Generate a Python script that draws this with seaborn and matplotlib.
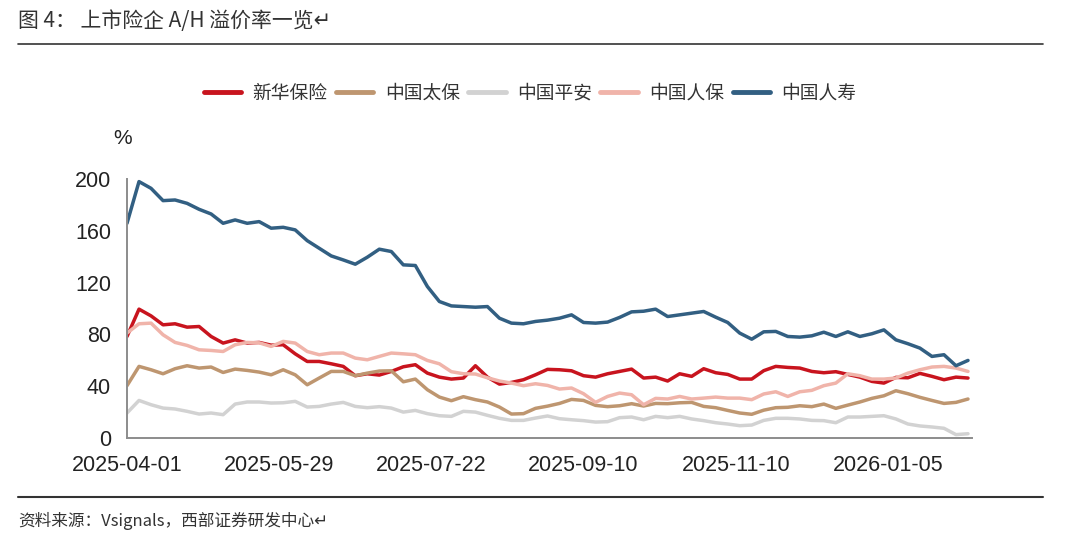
import numpy as np
import pandas as pd
import matplotlib.pyplot as plt
import seaborn as sns
from matplotlib.lines import Line2D

# 数据：每3个交易日取一个点（溢价率，%）
names = ['新华保险', '中国太保', '中国平安', '中国人保', '中国人寿']
colors = ['#C8141E', '#BE9670', '#D2D2D2', '#F0B4AA', '#325F82']
tick_days = [0, 38, 76, 114, 152, 190]
tick_labels = ['2025-04-01', '2025-05-29', '2025-07-22', '2025-09-10', '2025-11-10', '2026-01-05']

xinhua = [78.4, 99.5, 94.3, 87.4, 88.2, 85.6, 86.1, 78.4, 73.3, 75.8, 73.3, 73.8, 71.7, 72, 65, 59.1, 59.1, 57.3,
          55.3, 48.1, 49.6, 48.6, 51.4, 55, 56.6, 50.1, 47, 45.5, 46.3, 55.8, 47, 41.6, 42.9, 45, 48.8, 53,
          52.7, 51.9, 48.1, 47, 49.6, 51.4, 53.2, 46.3, 47, 44, 49.6, 47.6, 53.5, 50.4, 49.1, 45.5, 45.5, 52,
          55.3, 54.5, 54, 51.4, 50.4, 51.2, 49.1, 47, 43.7, 42.4, 46.8, 46.5, 49.9, 47.6, 45, 47, 46.3]
cpic = [40.4, 55.3, 52.7, 49.6, 53.5, 55.8, 54, 54.8, 50.6, 53.2, 52.2, 50.9, 48.8, 52.7, 48.8, 41.1, 46.3, 51.4,
        51.4, 48.1, 50.1, 51.7, 51.9, 43.4, 45.5, 37.3, 31.6, 28.8, 31.9, 29.6, 27.8, 23.9, 18.5, 18.8, 22.9, 24.6,
        26.7, 29.8, 29, 25.2, 24.2, 24.9, 26.5, 24.7, 26.7, 26.5, 27.2, 27.5, 24.4, 23.4, 21.3, 19.3, 18.3, 21.5,
        23.4, 23.7, 24.9, 24.2, 26.2, 22.9, 25.4, 27.8, 30.6, 32.6, 36.5, 34.2, 31.4, 29, 26.7, 27.5, 30.1]
pingan = [19.3, 29, 25.7, 23.1, 22.4, 20.6, 18.5, 19.3, 18, 26.2, 27.8, 27.8, 27, 27.2, 28.3, 23.9, 24.4, 26.2,
          27.5, 24.4, 23.4, 24.2, 23.1, 20, 21.3, 18.8, 17.2, 16.7, 20.6, 20, 17.5, 15.2, 13.6, 13.6, 15.4, 17,
          14.9, 14.1, 13.4, 12.3, 12.6, 15.7, 16.2, 14.1, 16.7, 15.7, 16.7, 14.7, 13.4, 11.8, 10.8, 9.5, 10, 13.6,
          15.2, 15.2, 14.7, 13.6, 13.4, 11.8, 16.2, 16.2, 16.7, 17.2, 14.7, 10.8, 9.3, 8.5, 7.5, 2.6, 3.3]
picc = [81, 88.2, 88.7, 79.7, 73.8, 71.5, 68.1, 67.6, 66.8, 72, 73.8, 73.5, 70.7, 74.6, 73.3, 66.8, 64.3, 65.6,
        65.6, 61.7, 60.4, 63, 65.6, 65, 64.3, 59.9, 57.3, 51.2, 49.6, 49.4, 46.5, 44, 42.4, 40.4, 41.9, 40.6,
        37.8, 38.6, 34.2, 27.5, 32.1, 34.7, 33.4, 25.7, 30.6, 30.1, 32.1, 30.1, 30.8, 31.6, 30.8, 30.8, 29.6, 34,
        35.7, 32.1, 35.7, 36.8, 40.4, 42.4, 49.6, 48.1, 45.5, 45.5, 46.3, 50.1, 52.7, 54.8, 55.3, 54, 51.4]
chinalife = [165.8, 198, 192.8, 183.3, 183.8, 181.2, 176.6, 173, 165.8, 168.4, 165.8, 167.1, 162, 162.7, 160.7, 152.4, 146.5, 140.6,
             137.5, 134.2, 139.6, 145.8, 144, 133.7, 133.2, 117, 105.4, 102, 101.5, 101, 101.5, 92.5, 88.7, 88.2, 90, 91,
             92.5, 95.1, 89.2, 88.7, 89.5, 93.1, 97.4, 97.9, 99.5, 93.8, 95.1, 96.4, 97.7, 93.3, 89.2, 81, 76.3, 82,
             82.3, 78.4, 77.9, 78.9, 81.7, 78.4, 82, 78.4, 80.5, 83.5, 75.8, 72.8, 69.4, 63, 64.3, 55.8, 59.9]

days = np.arange(len(xinhua)) * 3  # 交易日序号
df = pd.DataFrame({'day': days, '新华保险': xinhua, '中国太保': cpic, '中国平安': pingan,
                   '中国人保': picc, '中国人寿': chinalife})
df = df.melt(id_vars='day', var_name='公司', value_name='溢价率')

sns.set_style('white')
plt.rcParams['font.family'] = ['Noto Sans CJK SC', 'DejaVu Sans']

fig = plt.figure(figsize=(10.8, 5.51), dpi=100)
ax = fig.add_axes([127 / 1080, 1 - 438 / 551, 845 / 1080, 259 / 551])

sns.lineplot(data=df, x='day', y='溢价率', hue='公司', hue_order=names,
             palette=colors, linewidth=2.5, ax=ax, legend=False)

ax.set_xlim(0, 211)
ax.set_ylim(0, 200)
ax.set_yticks(range(0, 201, 40))
ax.set_xticks(tick_days)
ax.set_xticklabels(tick_labels)
ax.set_xlabel('')
ax.set_ylabel('')
for side in ['top', 'right']:
    ax.spines[side].set_visible(False)
for side in ['left', 'bottom']:
    ax.spines[side].set_color('#8C8C8C')
    ax.spines[side].set_linewidth(1.4)
ax.tick_params(axis='both', direction='out', length=8, width=1.2, color='#8C8C8C',
               labelsize=15.5, labelcolor='#222222')
ax.tick_params(axis='x', pad=4)
for lab in ax.get_xticklabels() + ax.get_yticklabels():
    lab.set_family(['Liberation Sans', 'DejaVu Sans'])

# 图例
handles = [Line2D([0], [0], color=c, lw=3.5) for c in colors]
fig.legend(handles, names, loc='center', bbox_to_anchor=(530 / 1080, 1 - 93 / 551), ncol=5,
           frameon=False, fontsize=13.5, handlelength=2.0, handletextpad=0.6, columnspacing=0.45,
           labelcolor='#333333')

# 单位
fig.text(123 / 1080, 1 - 138 / 551, '%', fontsize=15, ha='center', va='center',
         color='#222222', family=['Liberation Sans', 'DejaVu Sans'])

# 标题与来源
fig.text(18 / 1080, 1 - 21 / 551, '图 4： 上市险企 A/H 溢价率一览↵', fontsize=15, ha='left', va='center',
         color='#333333', family=['Noto Sans CJK SC', 'DejaVu Sans'])
fig.add_artist(Line2D([18 / 1080, 1043 / 1080], [1 - 44 / 551, 1 - 44 / 551], color='#333333', lw=1.2))
fig.add_artist(Line2D([18 / 1080, 1043 / 1080], [1 - 497 / 551, 1 - 497 / 551], color='#333333', lw=1.5))
fig.text(18 / 1080, 1 - 521 / 551, '资料来源：Vsignals，西部证券研发中心↵', fontsize=12, ha='left', va='center',
         color='#333333', family=['Noto Sans CJK SC', 'DejaVu Sans'])

fig.savefig('out.png', dpi=100)
